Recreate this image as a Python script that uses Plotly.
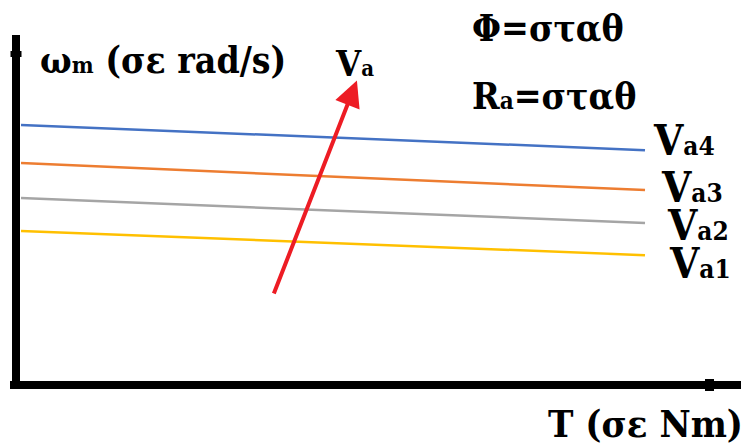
import plotly.graph_objects as go

# Data (T in arbitrary units, omega in arbitrary units)
T_vals = [0.08, 10.0]
series_names = ["Va4", "Va3", "Va2", "Va1"]
omega_va4 = [7.43, 6.71]
omega_va3 = [6.34, 5.57]
omega_va2 = [5.34, 4.63]
omega_va1 = [4.40, 3.71]
series_colors = ["#4472C4", "#ED7D31", "#A5A5A5", "#FFC000"]

# Red arrow (direction of increasing Va)
arrow_tail = (4.09, 2.57)
arrow_tip = (5.42, 8.70)

W, H = 741, 446
# pixel mapping: px = 16 + T*62.9 ; py = 385 - w*35
XR = [-16 / 62.9, (W - 16) / 62.9]
YR = [(385 - H) / 35, 385 / 35]

fig = go.Figure()
for name, ys, c in zip(series_names, [omega_va4, omega_va3, omega_va2, omega_va1], series_colors):
    fig.add_trace(go.Scatter(x=T_vals, y=ys, mode="lines", name=name,
                             line=dict(color=c, width=2.5), showlegend=False, hoverinfo="skip"))

def px2x(px):
    return (px - 16) / 62.9

def py2y(py):
    return (385 - py) / 35

shapes = []
# y axis
shapes.append(dict(type="line", xref="x", yref="y", x0=0, x1=0, y0=py2y(389), y1=py2y(35),
                   line=dict(color="black", width=8)))
shapes.append(dict(type="rect", xref="x", yref="y", x0=px2x(10.5), x1=px2x(21.5), y0=py2y(57), y1=py2y(51),
                   fillcolor="black", line=dict(width=0)))
# x axis
shapes.append(dict(type="line", xref="x", yref="y", x0=px2x(10), x1=px2x(741), y0=0, y1=0,
                   line=dict(color="black", width=8)))
shapes.append(dict(type="rect", xref="x", yref="y", x0=px2x(705), x1=px2x(714), y0=py2y(391), y1=py2y(379),
                   fillcolor="black", line=dict(width=0)))

FONT = "DejaVu Serif Condensed"

def sm(t, s):
    return '<span style="font-size:%dpx">%s</span>' % (s, t)

def ann(text, px, py, size, xanchor="left"):
    return dict(text="<b>" + text + "</b>", x=px / W, y=1 - py / H, xref="paper", yref="paper",
                xanchor=xanchor, yanchor="middle", showarrow=False,
                font=dict(family=FONT, size=size, color="black"))

annotations = [
    ann("ω" + sm("m", 23) + " (σε rad/s)", 38, 60, 37),
    ann("V" + sm("a", 22), 333, 63, 36),
    ann("Φ=σταθ", 470, 28, 37),
    ann("R" + sm("a", 24) + "=σταθ", 470, 96, 37),
    ann("V" + sm("a4", 26), 651, 140, 42),
    ann("V" + sm("a3", 26), 659, 187, 42),
    ann("V" + sm("a2", 26), 665, 225, 42),
    ann("V" + sm("a1", 26), 667, 263, 42),
    ann("T (σε Nm)", 546, 423, 38),
]
annotations.append(dict(x=arrow_tip[0], y=arrow_tip[1], ax=arrow_tail[0], ay=arrow_tail[1],
                        xref="x", yref="y", axref="x", ayref="y", text="", showarrow=True,
                        arrowhead=2, arrowsize=1.3, arrowwidth=4, arrowcolor="#ED1C24"))

fig.update_layout(
    width=W, height=H, margin=dict(l=0, r=0, t=0, b=0),
    paper_bgcolor="white", plot_bgcolor="white",
    font=dict(family=FONT),
    xaxis=dict(range=XR, visible=False, fixedrange=True),
    yaxis=dict(range=YR, visible=False, fixedrange=True),
    shapes=shapes, annotations=annotations, showlegend=False,
)
fig.write_html("out.html", config={"displayModeBar": False},
               post_script="document.body.style.margin='0';document.body.style.overflow='hidden';")
